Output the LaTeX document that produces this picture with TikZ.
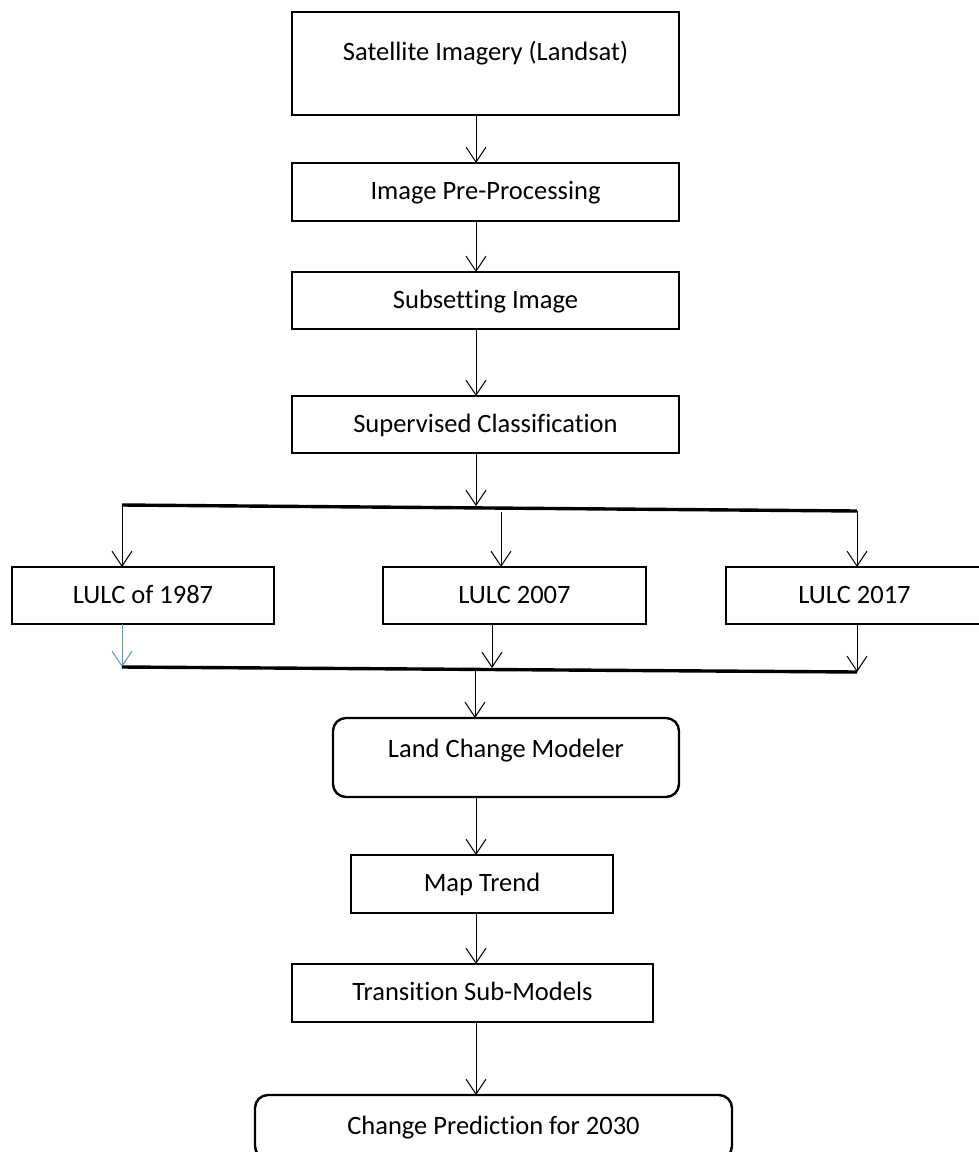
\documentclass[tikz,border=0pt]{standalone}
\usepackage{fontspec}
\setmainfont{Carlito}[Ligatures={NoCommon}]
\usetikzlibrary{positioning,arrows.meta}
\definecolor{lulcblue}{RGB}{91,155,213}

\begin{document}
\begin{tikzpicture}[x=1pt,y=1pt]
		% Define styles
		\tikzstyle{block} = [rectangle, draw, line width=2.4pt, outer sep=0pt,
		text centered, minimum height=57pt, text height=18pt, text depth=3pt,
		font=\fontsize{26.5}{32}\selectfont]
		\tikzstyle{roundblock} = [block, rounded corners=13pt] % Rounded block style
		\tikzstyle{arrow} = [line width=1pt,-{Straight Barb[length=15pt,width=20pt]}]
		\tikzstyle{bar} = [line width=3.4pt]
		
		% Page frame
		\useasboundingbox (0,0) rectangle (979,-1152);
		\coordinate (axis) at (476,0);
		
		% Place nodes
		\node [block, minimum width=387pt, minimum height=103pt, text depth=24pt] (sat) at (485.5,-63.5) {Satellite Imagery (Landsat)};
		\node [block, minimum width=387pt, minimum height=58pt, below=48pt of sat] (prep) {Image Pre-Processing};
		\node [block, minimum width=387pt, below=51pt of prep] (subset) {Subsetting Image};
		\node [block, minimum width=387pt, below=67pt of subset] (classif) {Supervised Classification};
		\node [block, minimum width=263pt, below=114pt of classif, xshift=29pt] (lulc07) {LULC 2007};
		\node [block, minimum width=262pt, left=109pt of lulc07] (lulc87) {LULC of 1987};
		\node [block, minimum width=257pt, right=80pt of lulc07] (lulc17) {LULC 2017};
		\node [roundblock, minimum width=346pt, minimum height=79pt, text depth=18pt, below=94pt of lulc07, xshift=-8.5pt] (lcm) {Land Change Modeler};
		\node [block, minimum width=262pt, minimum height=58pt, below=58pt of lcm, xshift=-24pt] (trend) {Map Trend};
		\node [block, minimum width=361pt, minimum height=58pt, below=51pt of trend, xshift=-9.5pt] (trans) {Transition Sub-Models};
		\node [roundblock, minimum width=477pt, minimum height=64pt, below=73pt of trans, xshift=21pt] (predict) {Change Prediction for 2030};
		
		% Bar ends and joints
		\coordinate (split) at (476,-506);
		\coordinate (barTL) at (122,-505);
		\coordinate (barTR) at (857,-511);
		\coordinate (fork07) at (501,-512);
		\coordinate (barBL) at (122,-667);
		\coordinate (barBR) at (857,-672);
		\coordinate (join07) at (492,-668);
		\coordinate (merge) at (475,-670);
		
		% Draw arrows
		\draw [arrow] (sat.south -| axis) -- (prep.north -| axis);
		\draw [arrow] (prep.south -| axis) -- (subset.north -| axis);
		\draw [arrow] (subset.south -| axis) -- (classif.north -| axis);
		\draw [arrow] (classif.south -| axis) -- (split);
		\draw [bar] (barTL) -- (barTR);
		\draw [arrow] (barTL) -- (barTL |- lulc87.north);
		\draw [arrow] (fork07) -- (fork07 |- lulc07.north);
		\draw [arrow] (barTR) -- (barTR |- lulc17.north);
		\draw [arrow, color=lulcblue] (lulc87.south -| barBL) -- (barBL); % Blue one on the left
		\draw [arrow] (lulc07.south -| join07) -- (join07);
		\draw [arrow] (lulc17.south -| barBR) -- (barBR);
		\draw [bar] (barBL) -- (barBR);
		\draw [arrow] (merge) -- (lcm.north -| merge);
		\draw [arrow] (lcm.south -| axis) -- (trend.north -| axis);
		\draw [arrow] (trend.south -| axis) -- (trans.north -| axis);
		\draw [arrow] (trans.south -| axis) -- (predict.north -| axis);
\end{tikzpicture}
\end{document}
